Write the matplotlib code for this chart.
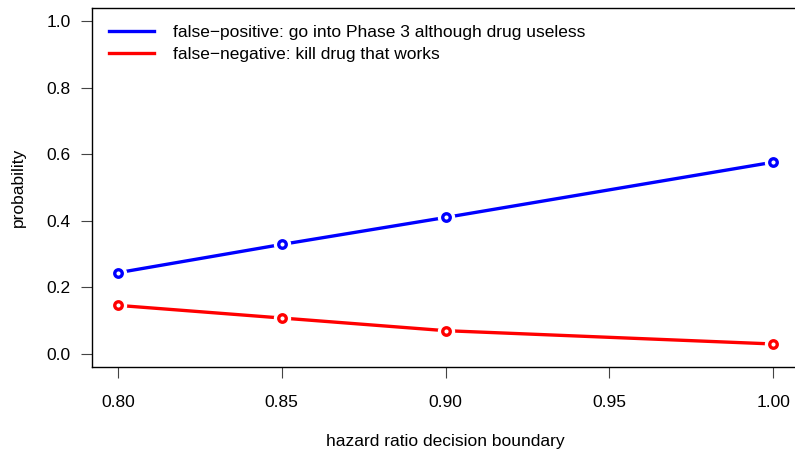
import matplotlib.pyplot as plt
import numpy as np

plt.rcParams['font.family'] = ['Liberation Sans', 'DejaVu Sans']

# decision boundary on the hazard ratio and the resulting error probabilities
hr_boundary = [0.80, 0.85, 0.90, 1.00]
false_positive = [0.244, 0.329, 0.410, 0.576]
false_negative = [0.146, 0.108, 0.070, 0.030]

series_labels = ['false\u2212positive: go into Phase 3 although drug useless',
                 'false\u2212negative: kill drug that works']
series_colors = ['blue', 'red']

xticks = [0.80, 0.85, 0.90, 0.95, 1.00]
yticks = [0.0, 0.2, 0.4, 0.6, 0.8, 1.0]

fig = plt.figure(figsize=(7.95, 4.51), dpi=100)
ax = fig.add_axes([0.1153, 0.1856, 0.8903, 0.7973])

for yvals, col, lab in zip([false_positive, false_negative], series_colors, series_labels):
    ax.plot(hr_boundary, yvals, color=col, lw=2.4, label=lab, zorder=2)
    # white halo so the line stops short of each point (like type="b")
    ax.plot(hr_boundary, yvals, ls='none', marker='o', ms=12.5, mfc='white',
            mec='none', zorder=3)
    ax.plot(hr_boundary, yvals, ls='none', marker='o', ms=5.4, mfc='white',
            mec=col, mew=2.4, zorder=4)

ax.set_xlim(0.792, 1.008)
ax.set_ylim(-0.04, 1.04)
ax.set_xticks(xticks)
ax.set_xticklabels(['%.2f' % v for v in xticks])
ax.set_yticks(yticks)
ax.set_yticklabels(['%.1f' % v for v in yticks])

for s in ax.spines.values():
    s.set_linewidth(1.0)
    s.set_color('black')
ax.spines['right'].set_visible(False)

ax.tick_params(axis='both', direction='out', length=8, width=0.8,
               color='#444444', labelsize=12.5)
ax.tick_params(axis='x', pad=12)
ax.tick_params(axis='y', pad=7)

ax.set_xlabel('hazard ratio decision boundary', fontsize=12.5)
ax.set_ylabel('probability', fontsize=12.5)
ax.xaxis.set_label_coords(0.5, -0.207)
ax.xaxis.label.set_va('center')
ax.yaxis.set_label_coords(-0.104, 0.5)
ax.yaxis.label.set_va('center')

leg = ax.legend(loc='upper left', frameon=False, fontsize=12.5,
                handlelength=2.6, handletextpad=1.1, labelspacing=0.38,
                borderaxespad=0.6, bbox_to_anchor=(0.0, 1.0))

fig.savefig('out.png', dpi=100)
